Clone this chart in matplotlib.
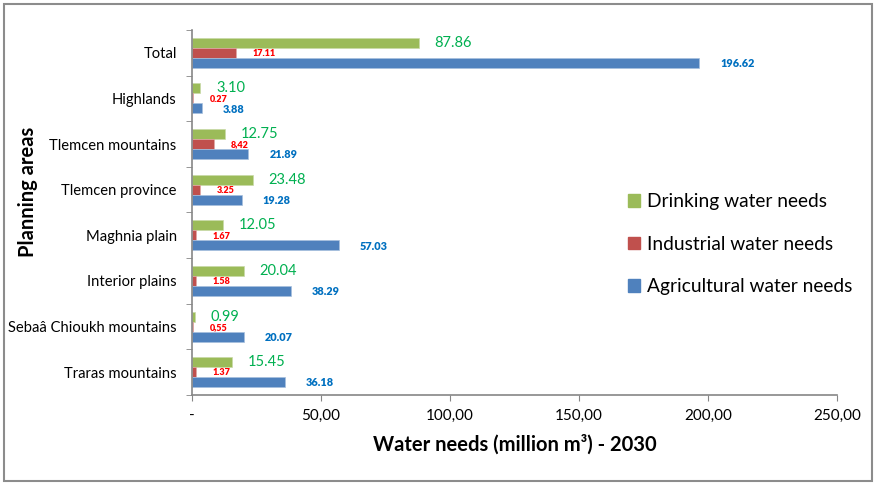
import numpy as np
import matplotlib.pyplot as plt
from matplotlib.patches import Rectangle

plt.rcParams['font.family'] = ['Lato', 'DejaVu Sans']

# Planning areas, listed top to bottom
areas = ["Total", "Highlands", "Tlemcen mountains", "Tlemcen province",
         "Maghnia plain", "Interior plains", "Sebaâ Chioukh mountains",
         "Traras mountains"]

# Water needs for 2030 (million m3)
drinking = [87.86, 3.10, 12.75, 23.48, 12.05, 20.04, 0.99, 15.45]
industrial = [17.11, 0.27, 8.42, 3.25, 1.67, 1.58, 0.55, 1.37]
agricultural = [196.62, 3.88, 21.89, 19.28, 57.03, 38.29, 20.07, 36.18]

# Labels as printed next to the bars
drinking_labels = ["87.86", "3.10", "12.75", "23.48", "12.05", "20.04", "0.99", "15.45"]
industrial_labels = ["17.11", "0.27", "8,42", "3.25", "1.67", "1.58", "0,55", "1.37"]
agricultural_labels = ["196.62", "3.88", "21.89", "19.28", "57.03", "38.29", "20.07", "36.18"]

x_ticks = [0, 50, 100, 150, 200, 250]
x_tick_labels = ["-", "50,00", "100,00", "150,00", "200,00", "250,00"]

green = "#9BBB59"
red = "#C0504D"
blue = "#4F81BD"
axis_grey = "#868686"

fig = plt.figure(figsize=(8.76, 4.83), dpi=100)
ax = fig.add_axes([0.2192, 0.1822, 0.7363, 0.7557])

y = np.arange(len(areas))
h = 0.22

ax.barh(y - h, drinking, height=h, color=green, edgecolor="#C9DAA8", linewidth=0.5)
ax.barh(y, industrial, height=h, color=red, edgecolor="#E0A8A6", linewidth=0.5)
ax.barh(y + h, agricultural, height=h, color=blue, edgecolor="#A7C0DE", linewidth=0.5)

# Value labels to the right of each bar
for i in range(len(areas)):
    ax.annotate(drinking_labels[i], (drinking[i], y[i] - h), xytext=(11.5, 0),
                textcoords="offset points", va="center", ha="left",
                fontsize=10.5, color="#00B050")
    ax.annotate(industrial_labels[i], (industrial[i], y[i]), xytext=(12, -0.5),
                textcoords="offset points", va="center", ha="left",
                fontsize=6.5, fontweight="heavy", color="#FF0000")
    ax.annotate(agricultural_labels[i], (agricultural[i], y[i] + h), xytext=(15, -0.5),
                textcoords="offset points", va="center", ha="left",
                fontsize=7.8, fontweight="heavy", color="#0070C0")

ax.set_xlim(0, 250)
ax.set_ylim(len(areas) - 0.5, -0.5)

ax.set_xticks(x_ticks)
ax.set_xticklabels(x_tick_labels, fontsize=11)
ax.set_yticks(y)
ax.set_yticklabels(areas, fontsize=10.6)
ax.set_yticks(np.arange(len(areas) + 1) - 0.5, minor=True)

ax.tick_params(axis="y", which="major", length=0, pad=11)
ax.tick_params(axis="y", which="minor", length=4, direction="out", color=axis_grey)
ax.tick_params(axis="x", length=4, direction="out", color=axis_grey, pad=6)

for side in ["top", "right"]:
    ax.spines[side].set_visible(False)
for side in ["left", "bottom"]:
    ax.spines[side].set_color(axis_grey)
    ax.spines[side].set_linewidth(1.2)

ax.set_xlabel("Water needs (million m³) - 2030", fontsize=14.5, fontweight="bold", labelpad=8)
fig.text(0.032, 0.602, "Planning areas", rotation=90, fontsize=14.5, fontweight="bold",
         ha="center", va="center")

handles = [Rectangle((0, 0), 1, 1, color=c) for c in (green, red, blue)]
fig.legend(handles, ["Drinking water needs", "Industrial water needs", "Agricultural water needs"],
           loc="center left", bbox_to_anchor=(0.697, 0.494), frameon=False, fontsize=13.8,
           handlelength=0.62, handleheight=0.62, handletextpad=0.4, labelspacing=1.33)

# Outer frame around the whole chart
fig.add_artist(Rectangle((0.005, 0.004), 0.991, 0.988, transform=fig.transFigure,
                         fill=False, edgecolor="#8C8C8C", linewidth=1.5))

fig.savefig("out.png", dpi=100)
